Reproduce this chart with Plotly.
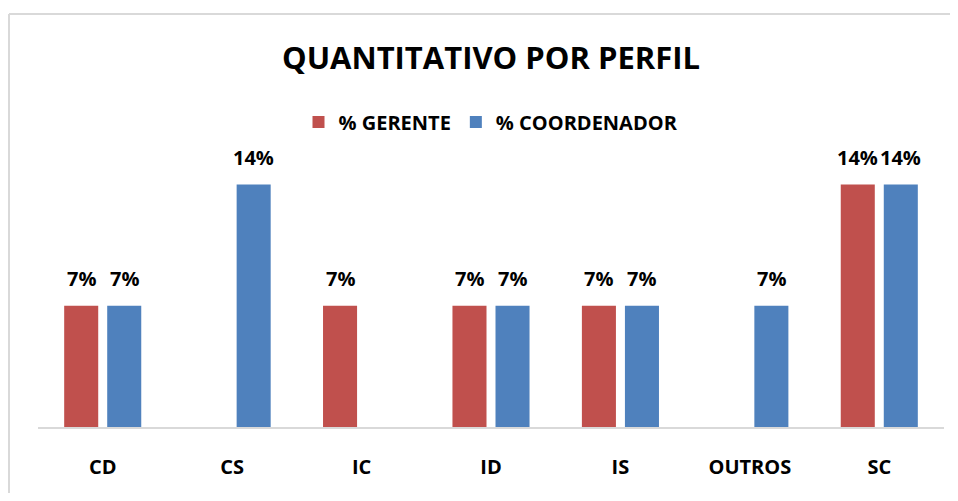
import plotly.graph_objects as go

categories = ["CD", "CS", "IC", "ID", "IS", "OUTROS", "SC"]
gerente = [0.07, 0, 0.07, 0.07, 0.07, 0, 0.14]
coordenador = [0.07, 0.14, 0, 0.07, 0.07, 0.07, 0.14]
series_names = ["% GERENTE", "% COORDENADOR"]
colors = ["#C0504D", "#4F81BD"]

OFF = 8  # page body margin (each side)
W, H = 958 - 2 * OFF, 501 - 2 * OFF
ML, MT = 38 - OFF, 150 - OFF
plot_w, plot_h = 906, 277
MR = W - ML - plot_w
MB = H - MT - plot_h
YMAX = 0.16

FONT = "Open Sans"

fig = go.Figure()
for name, vals, col in zip(series_names, [gerente, coordenador], colors):
    fig.add_trace(go.Bar(
        x=categories, y=vals, name=name,
        marker=dict(color=col, line=dict(width=0)),
    ))

cat_w = plot_w / len(categories)
slot = cat_w * (1 - 0.335) / 2
for i, vals in enumerate([gerente, coordenador]):
    shift = (-0.5 if i == 0 else 0.5) * slot
    for c, v in zip(categories, vals):
        if v > 0:
            fig.add_annotation(
                x=c, y=v, xref="x", yref="y",
                text=f"{round(v*100)}%", showarrow=False,
                xshift=shift, yshift=12, yanchor="bottom",
                font=dict(family=FONT, size=20, color="#000000", weight="bold"),
            )

# chart border (page coordinates converted to paper)
def px2paper_x(px):
    return (px - OFF - ML) / plot_w

def py2paper_y(py):
    return (MT + plot_h - (py - OFF)) / plot_h

border = dict(color="#D9D9D9", width=2)
fig.add_shape(type="line", xref="paper", yref="paper",
              x0=px2paper_x(9), x1=px2paper_x(958),
              y0=py2paper_y(14), y1=py2paper_y(14), line=border, layer="below")
fig.add_shape(type="line", xref="paper", yref="paper",
              x0=px2paper_x(9), x1=px2paper_x(9),
              y0=py2paper_y(14), y1=py2paper_y(501), line=border, layer="below")

fig.update_layout(
    width=W, height=H,
    margin=dict(l=ML, r=MR, t=MT, b=MB, pad=0),
    paper_bgcolor="white", plot_bgcolor="white",
    barmode="group", bargap=0.335, bargroupgap=0.209,
    title=dict(text="QUANTITATIVO POR PERFIL", x=0.5, xref="paper", xanchor="center",
               y=1 - (58 - OFF) / H, yref="container", yanchor="middle",
               font=dict(family=FONT, size=31, color="#000000", weight="bold")),
    legend=dict(orientation="h", x=0.5, xanchor="center", y=py2paper_y(122), yanchor="middle",
                font=dict(family=FONT, size=20, color="#000000", weight="bold"),
                itemwidth=30, traceorder="normal", bgcolor="rgba(0,0,0,0)"),
    showlegend=True,
)
fig.update_xaxes(showline=True, linecolor="#D9D9D9", linewidth=2, ticks="",
                 ticklabelstandoff=21,
                 tickfont=dict(family=FONT, size=20, color="#000000", weight="bold"),
                 showgrid=False, fixedrange=True)
fig.update_yaxes(range=[0, YMAX], visible=False, showgrid=False, zeroline=False, fixedrange=True)

fig.write_html("out.html", config={"displayModeBar": False})
